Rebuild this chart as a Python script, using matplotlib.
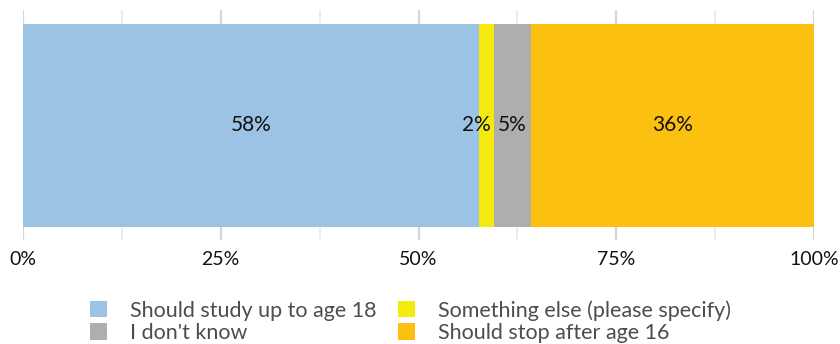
import matplotlib
matplotlib.use("Agg")
import matplotlib.pyplot as plt
from matplotlib.patches import Patch
from matplotlib.ticker import MultipleLocator, PercentFormatter

# shares of respondents, left to right along the bar
categories = ["Should study up to age 18", "Something else (please specify)",
              "I don't know", "Should stop after age 16"]
shares = [57.6, 1.9, 4.7, 35.8]
labels = ["58%", "2%", "5%", "36%"]
colors = ["#9dc3e4", "#f5ea0f", "#b0adad", "#fcc010"]

plt.rcParams["font.family"] = ["Lato", "DejaVu Sans"]

fig = plt.figure(figsize=(8.4, 3.44), dpi=100)
ax = fig.add_axes([23 / 840, 1 - 240 / 344, 791 / 840, 230 / 344])

left = 0.0
for share, lab, col in zip(shares, labels, colors):
    ax.barh(0, share, left=left, height=203 / 230, color=col, zorder=3)
    if share < 3:
        # thin segment: label sits just left of its right edge, like the original
        ax.text(left + share - 0.4, 0, lab, ha="right", va="center",
                fontsize=15, color="#111111", zorder=4)
    else:
        ax.text(left + share / 2, 0, lab, ha="center", va="center",
                fontsize=15, color="#111111", zorder=4)
    left += share

ax.set_xlim(0, 100)
ax.set_ylim(-0.5, 0.5)
ax.set_yticks([])
ax.xaxis.set_major_locator(MultipleLocator(25))
ax.xaxis.set_minor_locator(MultipleLocator(12.5))
ax.xaxis.set_major_formatter(PercentFormatter(decimals=0))
ax.grid(True, axis="x", which="major", color="#d6d6d6", linewidth=1.6, zorder=0)
ax.grid(True, axis="x", which="minor", color="#ececec", linewidth=1.4, zorder=0)
ax.tick_params(axis="x", which="both", length=0, pad=8, labelsize=14,
               labelcolor="#111111")
for s in ax.spines.values():
    s.set_visible(False)

# legend fills column-wise, so order handles to read row by row like the original
order = [0, 2, 1, 3]
handles = [Patch(facecolor=colors[i], edgecolor="none") for i in order]
fig.legend(handles, [categories[i] for i in order], ncol=2,
           loc="upper left", bbox_to_anchor=(90 / 840, 1 - 300 / 344),
           frameon=False, fontsize=15.5, labelcolor="#4d4d4d",
           handlelength=0.8, handleheight=0.8, handletextpad=1.05,
           columnspacing=1.0, labelspacing=0.1, borderpad=0, borderaxespad=0)

fig.savefig("out.png", dpi=100)
